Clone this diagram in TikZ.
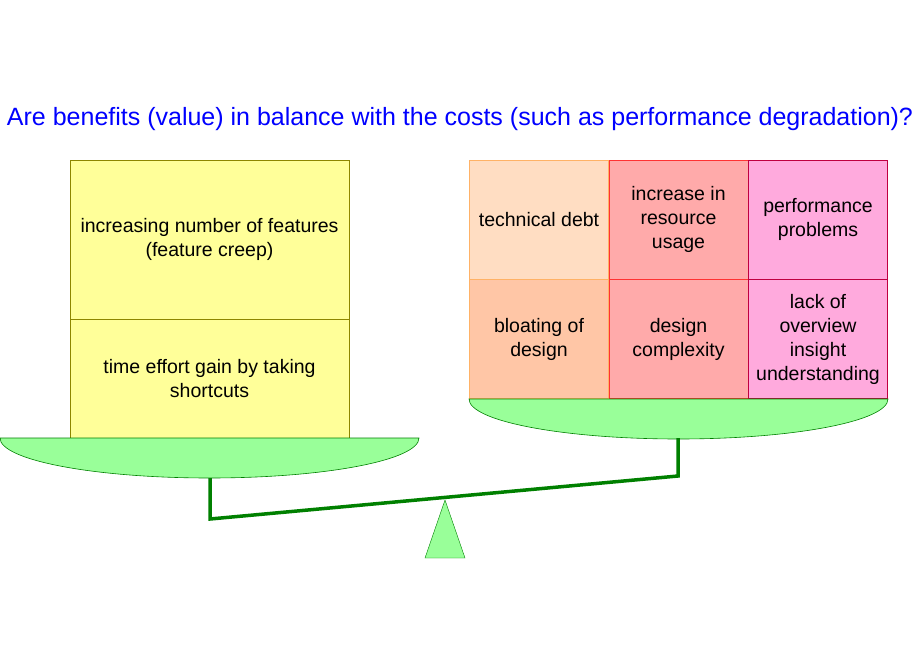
\documentclass[tikz,border=0pt]{standalone}
\usepackage{fontspec}
\setmainfont{Liberation Sans}
\begin{document}
\begin{tikzpicture}[x=1pt,y=-1pt,
  cell/.style={draw, minimum width=139pt, font=\fontsize{19.5}{24}\selectfont, align=center, inner sep=0pt},
  pan/.style={fill=green!40!white, draw=green!50!black, line width=0.6pt},
  beam/.style={draw=green!50!black, line width=3.5pt}]
\useasboundingbox (0,0) rectangle (920,660);
\definecolor{yel}{HTML}{FFFF99}
\definecolor{peach}{HTML}{FFDDC2}
\definecolor{salmon}{HTML}{FFC6A6}
\definecolor{rose}{HTML}{FFAAAA}
\definecolor{pinkc}{HTML}{FFAADD}
\node[font=\fontsize{25}{28}\selectfont, text=blue, inner sep=0pt] (title) at (460,119) {Are benefits (value) in balance with the costs (such as performance degradation)?};
% left
\node[cell, fill=yel, draw=olive, minimum width=279pt, minimum height=159pt] (l1) at (209.5,239.5) {increasing number of features\\(feature creep)};
\node[cell, fill=yel, draw=olive, minimum width=279pt, minimum height=119pt] (l2) at (209.5,378.5) {time effort gain by taking\\shortcuts};
% right
\node[cell, fill=peach, draw=orange!60, minimum height=119pt] (r1) at (539,219.5) {technical debt};
\node[cell, fill=rose, draw=red!80, minimum height=119pt] (r2) at (678.5,219.5) {increase in\\resource\\usage};
\node[cell, fill=pinkc, draw=purple, minimum height=119pt] (r3) at (818,219.5) {performance\\problems};
\node[cell, fill=salmon, draw=orange!60, minimum height=119pt] (r4) at (539,339) {bloating of\\design};
\node[cell, fill=rose, draw=red!80, minimum height=119pt] (r5) at (678.5,339) {design\\complexity};
\node[cell, fill=pinkc, draw=purple, minimum height=119pt] (r6) at (818,339) {lack of\\overview\\insight\\understanding};
% pans
\draw[pan] (0,438) -- (419,438) arc[start angle=0,end angle=-180,x radius=209.5,y radius=-40] -- cycle;
\draw[pan] (469,399) -- (888,399) arc[start angle=0,end angle=-180,x radius=209.5,y radius=-40] -- cycle;
% fulcrum
\draw[fill=green!40!white, draw=green!50!black] (445,500) -- (465,558) -- (425,558) -- cycle;
\coordinate (lt) at (210,478);
\coordinate (rt) at (678,438);
\draw[beam, line join=miter] (lt) -- (210,519) -- (678,476) -- (rt);
\end{tikzpicture}
\end{document}
